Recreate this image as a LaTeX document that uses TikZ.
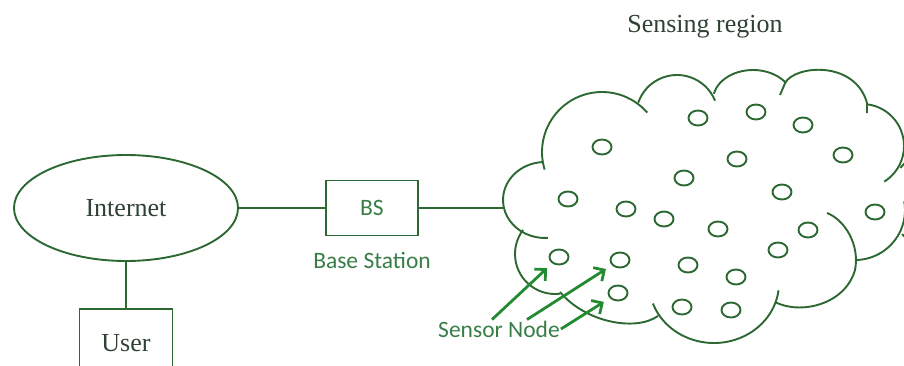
\documentclass[tikz,border=0pt]{standalone}
\usepackage{fontspec}
\setmainfont{Liberation Serif}
\newfontfamily\calib{Carlito}
\usepackage{tikz}
\usetikzlibrary{arrows.meta,shapes.geometric}
\definecolor{wiregreen}{RGB}{44,104,50}
\definecolor{arrowgreen}{RGB}{34,138,48}
\definecolor{lblgreen}{RGB}{56,126,70}
\definecolor{txtgray}{RGB}{48,66,52}

\begin{document}
\begin{tikzpicture}[x=1pt,y=1pt,>={Straight Barb[length=8pt,width=16pt]},node distance=246pt,
    wire/.style={color=wiregreen,draw,line width=1.9pt},
    box/.style={wire,rectangle,inner sep=0pt,text=txtgray,font=\fontsize{26}{30}\selectfont},
    lbl/.style={text=lblgreen,inner sep=1pt,font=\calib\fontsize{23.5}{27}\selectfont},
    sensor/.style={wire,ellipse,minimum width=19pt,minimum height=15pt,inner sep=0pt},
    pointer/.style={->,color=arrowgreen,line width=2.8pt,shorten >=7pt}]
  \useasboundingbox (0,0) rectangle (904,365);
  \clip (0,0) rectangle (904,365);

  \node[box,ellipse,minimum width=224pt,minimum height=106pt] (inet) at (126,157) {Internet};
  \node[box,lbl,minimum width=92pt,minimum height=55pt] (bs) [right of=inet] {BS};
  \node[box,minimum width=93pt,minimum height=68pt] (user) [below of=inet,node distance=135pt] {User};
  \node[lbl] (bslbl) [below of=bs,node distance=52pt] {Base Station};
  \node[text=txtgray,font=\fontsize{26}{30}\selectfont] (region) at (705,338) {Sensing region};
  \coordinate (cw) at (504,157);

  % cloud
  \draw[wire] ([shift={(93:42 and 38)}]545,165) arc[start angle=93,end angle=274,x radius=42,y radius=38];
  \draw[wire] ([shift={(197:60)}]602,213) arc[start angle=197,end angle=41,radius=60];
  \draw[wire] ([shift={(161:41)}]677,249) arc[start angle=161,end angle=22,radius=41];
  \draw[wire] ([shift={(168:40 and 30)}]753,265) arc[start angle=168,end angle=36,x radius=40,y radius=30] -- (780,270);
  \draw[wire] (785,282) .. controls (795,300) and (855,305) .. (867,262) -- (867,252);
  \draw[wire] ([shift={(83:42)}]862,219) arc[start angle=83,end angle=-58,radius=42];
  \draw[wire] ([shift={(141:51)}]940,165) arc[start angle=141,end angle=-138,radius=51];
  \draw[wire] ([shift={(-88:50)}]855,155) arc[start angle=-88,end angle=10,radius=50];
  \draw[wire] (775,63) .. controls (800,50) and (845,60) .. (855,95) .. controls (860,120) and (845,145) .. (827,152);
  \draw[wire] ([shift={(200:65 and 60)}]714,82) arc[start angle=200,end angle=353,x radius=65,y radius=60];
  \draw[wire] (560,73) .. controls (585,43) and (635,33) .. (658,49);
  \draw[wire] ([shift={(143:40)}]555,111) arc[start angle=143,end angle=277,radius=40];

  \node[sensor] (s1) at (698,247) {};
  \node[sensor] (s2) at (756,253) {};
  \node[sensor] (s3) at (803,240) {};
  \node[sensor] (s4) at (843,210) {};
  \node[sensor] (s5) at (737,206) {};
  \node[sensor] (s6) at (684,187) {};
  \node[sensor] (s7) at (602,218) {};
  \node[sensor] (s8) at (568,166) {};
  \node[sensor] (s9) at (626,156) {};
  \node[sensor] (s10) at (664,146) {};
  \node[sensor] (s11) at (718,136) {};
  \node[sensor] (s12) at (782,173) {};
  \node[sensor] (s13) at (808,135) {};
  \node[sensor] (s14) at (875,153) {};
  \node[sensor] (s15) at (778,115) {};
  \node[sensor] (s16) at (559,108) {};
  \node[sensor] (s17) at (620,105) {};
  \node[sensor] (s18) at (688,100) {};
  \node[sensor] (s19) at (736,88) {};
  \node[sensor] (s20) at (618,72) {};
  \node[sensor] (s21) at (682,58) {};
  \node[sensor] (s22) at (731,55) {};

  \node[lbl] (snlbl) at (499,36) {Sensor Node};

  \path[wire]
        (inet) edge (bs)
        (bs) edge (cw)
        (inet) edge (user);
  \path[pointer]
        ([xshift=-7pt]snlbl.north) edge (s16)
        ([xshift=28pt]snlbl.north) edge (s17)
        (snlbl.east) edge (s20);
\end{tikzpicture}
\end{document}
